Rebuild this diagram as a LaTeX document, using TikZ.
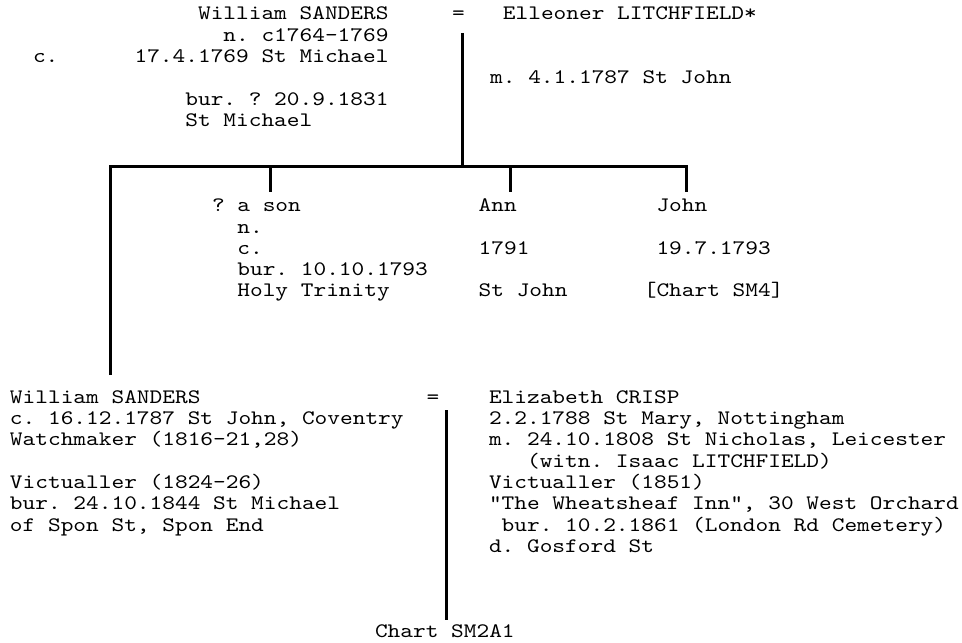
\documentclass[tikz,border=0pt]{standalone}
\usepackage{fontspec}
\setmonofont[FakeStretch=1.174]{lmmono10-regular.otf}
\newcommand\indt[1]{\hspace*{#1\fontcharwd\font`\x}}
\newcommand\topstrutx{\rule{0pt}{9pt}}
\begin{document}
\begin{tikzpicture}[x=0.5pt,y=-0.5pt,
  txt/.style={font=\fontsize{10.3pt}{10.65pt}\selectfont\ttfamily\frenchspacing,
    inner sep=0pt, outer sep=0pt, align=left, anchor=north west},
  btxt/.style={txt, anchor=base west},
  link/.style={line width=1.5pt, black}]
\path[use as bounding box, fill=white] (0,0) rectangle (962,642);

% generation 1
\node[txt] (wsr) at (33,2) {\topstrutx\indt{13}William SANDERS\\
  \indt{15}n. c1764-1769\\
  c.\indt{6}17.4.1769 St Michael\\
  \\
  \indt{12}bur. ? 20.9.1831\\
  \indt{12}St Michael};
\node[txt, anchor=base] (eq1) at (458.5,20) {=};
\node[btxt] (elit) at (502.9,20) {Elleoner LITCHFIELD*};
\node[btxt] (marr1) at (490.2,83.9) {m. 4.1.1787 St John};

% generation 2
\node[txt] (son) at (212,193.7) {\topstrutx ? a son\\
  \indt{2}n.\\
  \indt{2}c.\\
  \indt{2}bur. 10.10.1793\\
  \indt{2}Holy Trinity};
\node[txt] (ann) at (478.7,193.7) {\topstrutx Ann\\ \\1791\\ \\St John};
\node[txt] (john) at (643.8,193.7) {\topstrutx\indt{1}John\\ \\\indt{1}19.7.1793\\ \\{[}Chart SM4]};

\node[txt] (wsj) at (10,385.3) {\topstrutx William SANDERS\\
  c. 16.12.1787 St John, Coventry\\
  Watchmaker (1816-21,28)\\
  \\
  Victualler (1824-26)\\
  bur. 24.10.1844 St Michael\\
  of Spon St, Spon End};
\node[txt, anchor=base] (eq2) at (433,403.3) {=};
\node[txt] (ecr) at (489,385.3) {\topstrutx Elizabeth CRISP\\
  2.2.1788 St Mary, Nottingham\\
  m. 24.10.1808 St Nicholas, Leicester\\
  \indt{3}(witn. Isaac LITCHFIELD)\\
  Victualler (1851)\\
  "The Wheatsheaf Inn", 30 West Orchard\\
  \indt{1}bur. 10.2.1861 (London Rd Cemetery)\\
  d. Gosford St};

\node[btxt, outer ysep=2pt] (chart) at (375,637) {Chart SM2A1};

% connectors
\coordinate (c1) at (462,33);
\coordinate (j1) at (462,166);
\coordinate (wsjtop) at (110,375);
\coordinate (sontop) at (270,192);
\coordinate (anntop) at (510,192);
\coordinate (johntop) at (686,192);
\coordinate (c2) at (446,410);

\draw[link] (c1) -- (j1);
\draw[link] (wsjtop) -- (wsjtop |- j1) -- (johntop |- j1) -- (johntop);
\draw[link] (sontop |- j1) -- (sontop);
\draw[link] (anntop |- j1) -- (anntop);
\draw[link] (c2) -- (chart.north -| c2);
\end{tikzpicture}
\end{document}
